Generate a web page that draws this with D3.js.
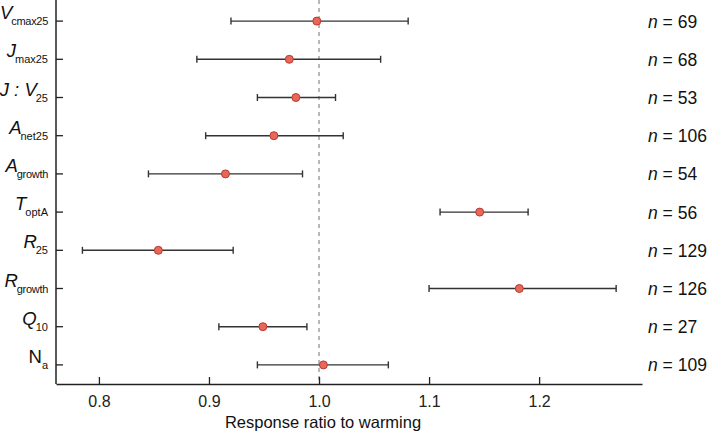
<!DOCTYPE html>
<html><head><meta charset="utf-8">
<script src="https://cdn.jsdelivr.net/npm/d3@7"></script>
<style>
html,body{margin:0;padding:0;background:#fff;}
svg{display:block;font-family:"Liberation Sans",Arial,Helvetica,sans-serif;}
</style></head>
<body><svg id="c" width="709" height="434"></svg>
<script>
const categories = ["Vcmax25","Jmax25","J:V25","Anet25","Agrowth","ToptA","R25","Rgrowth","Q10","Na"];
const labelMain = ["V","J","J : V","A","A","T","R","R","Q","N"];
const labelSub  = ["cmax25","max25","25","net25","growth","optA","25","growth","10","a"];
const labelItalic = [true,true,true,true,true,true,true,true,true,false];
const means = [0.998,0.973,0.979,0.959,0.915,1.146,0.854,1.182,0.949,1.004];
const lows  = [0.920,0.889,0.944,0.897,0.845,1.110,0.785,1.100,0.909,0.944];
const highs = [1.081,1.056,1.015,1.022,0.985,1.190,0.922,1.270,0.989,1.063];
const ns    = [69,68,53,106,54,56,129,126,27,109];
const xTicks = [0.8,0.9,1.0,1.1,1.2];
const xTitle = "Response ratio to warming";

const svg = d3.select("#c");
const mLeft = 56, mRight = 642, mTop = 2, mBottom = 384;
const x = d3.scaleLinear().domain([0.761,1.2935]).range([mLeft,mRight]);
const y = d3.scaleBand().domain(categories).range([mTop,mBottom]);
const yc = d => y(d) + y.bandwidth()/2;

// reference line
svg.append("line")
  .attr("x1", x(1)).attr("x2", x(1)).attr("y1", 0).attr("y2", mBottom)
  .attr("stroke","#8a8a8a").attr("stroke-width",1.2).attr("stroke-dasharray","4,4");

// x axis
const xa = svg.append("g").attr("transform",`translate(0,${mBottom})`)
  .call(d3.axisBottom(x).tickValues(xTicks).tickFormat(d3.format(".1f")).tickSizeInner(-7).tickSizeOuter(0).tickPadding(12));
xa.select(".domain").attr("stroke","#222").attr("stroke-width",1.5);
xa.selectAll(".tick line").attr("stroke","#222").attr("stroke-width",1.3);
xa.selectAll(".tick text").attr("font-size",16).attr("fill","#222").attr("font-family","Liberation Sans, Arial, sans-serif");

// y axis
const ya = svg.append("g").attr("transform",`translate(${mLeft},0)`)
  .call(d3.axisLeft(y).tickSizeInner(-7).tickSizeOuter(0).tickFormat(""));
ya.select(".domain").attr("d",`M0,0V${mBottom}`).attr("stroke","#222").attr("stroke-width",1.5);
ya.selectAll(".tick line").attr("stroke","#222").attr("stroke-width",1.3);

// y labels
categories.forEach((c,i) => {
  const t = svg.append("text").attr("x", 48).attr("y", yc(c) - 2)
    .attr("text-anchor","end").attr("fill","#111");
  t.append("tspan").text(labelMain[i]).attr("font-size",18.5)
    .attr("font-style", labelItalic[i] ? "italic" : "normal");
  t.append("tspan").text(labelSub[i]).attr("font-size",11).attr("dy",6)
    .attr("dx", labelItalic[i] ? -1 : 0)
    .attr("letter-spacing", labelSub[i].length > 5 ? -0.3 : 0);
});

// error bars
const g = svg.append("g");
categories.forEach((c,i) => {
  const cy = yc(c);
  g.append("line").attr("x1",x(lows[i])).attr("x2",x(highs[i])).attr("y1",cy).attr("y2",cy)
    .attr("stroke","#333").attr("stroke-width",1.4);
  [lows[i],highs[i]].forEach(v => {
    g.append("line").attr("x1",x(v)).attr("x2",x(v)).attr("y1",cy-3.5).attr("y2",cy+3.5)
      .attr("stroke","#333").attr("stroke-width",1.4);
  });
  g.append("circle").attr("cx",x(means[i])).attr("cy",cy).attr("r",4)
    .attr("fill","#e8675a").attr("stroke","#b83a2e").attr("stroke-width",1);
  const nt = svg.append("text").attr("x",648).attr("y",cy+6.5).attr("font-size",17.5).attr("fill","#111");
  nt.append("tspan").text("n").attr("font-style","italic");
  nt.append("tspan").text(" = " + ns[i]);
});

// x title
svg.append("text").attr("x",(x(0.8)+x(1.2))/2+4).attr("y",428).attr("text-anchor","middle")
  .attr("font-size",16.5).attr("fill","#111").text(xTitle);
</script></body></html>
